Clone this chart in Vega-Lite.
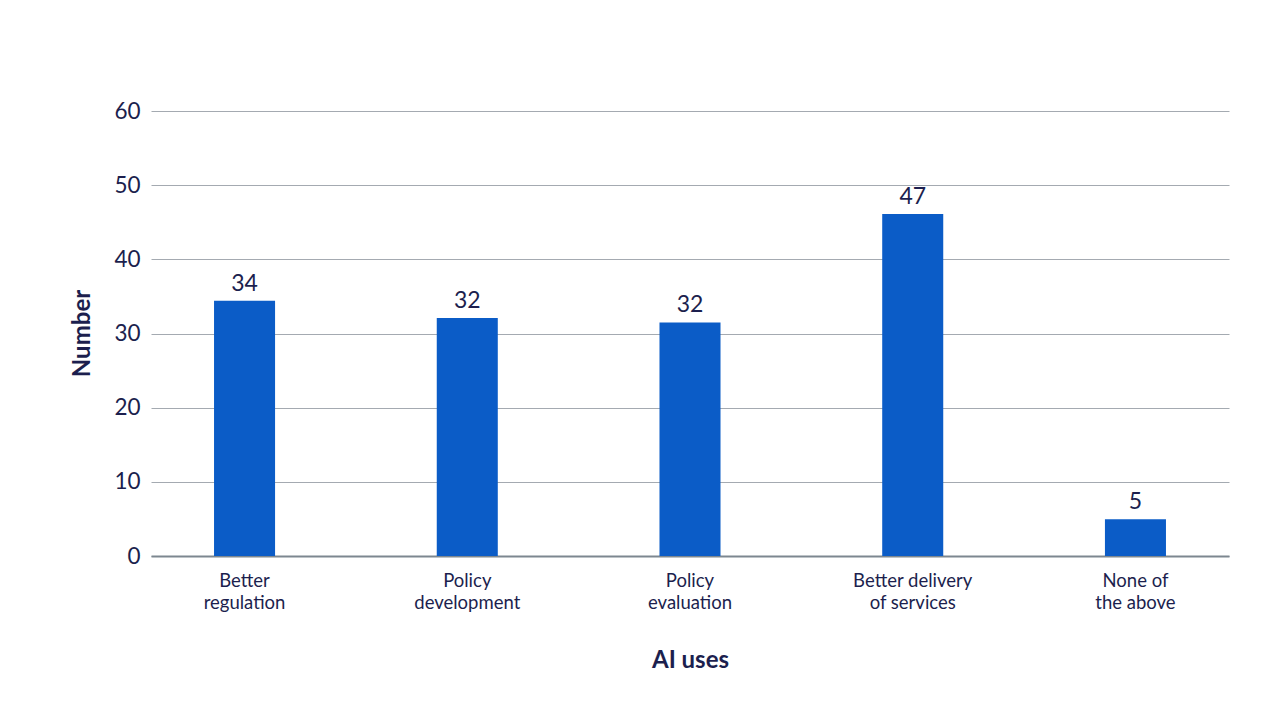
{
  "$schema": "https://vega.github.io/schema/vega-lite/v6.json",
  "autosize": {"type": "none"},
  "width": 1078,
  "height": 445,
  "padding": {"left": 151, "top": 111, "right": 55, "bottom": 164},
  "background": "#ffffff",
  "data": {
    "values": [
      {"use": "Better\nregulation", "value": 34.4, "label": "34"},
      {"use": "Policy\ndevelopment", "value": 32.1, "label": "32"},
      {"use": "Policy\nevaluation", "value": 31.5, "label": "32"},
      {"use": "Better delivery\nof services", "value": 46.1, "label": "47"},
      {"use": "None of\nthe above", "value": 4.95, "label": "5"}
    ]
  },
  "config": {
    "font": "Lato",
    "view": {"stroke": null},
    "axis": {"labelColor": "#1c1f4e", "titleColor": "#1c1f4e"}
  },
  "encoding": {
    "x": {
      "field": "use",
      "type": "nominal",
      "sort": null,
      "scale": {"paddingInner": 0.726, "paddingOuter": 0.283},
      "axis": {
        "title": "AI uses",
        "titleFontSize": 24,
        "titleFontWeight": "bold",
        "titleY": 104,
        "titleBaseline": "middle",
        "labelExpr": "split(datum.label, '\\n')",
        "labelAngle": 0,
        "labelFontSize": 18.5,
        "labelLineHeight": 22,
        "labelPadding": 15,
        "labelBaseline": "top",
        "ticks": false,
        "domainColor": "#7d8790",
        "domainWidth": 2,
        "grid": false
      }
    },
    "y": {
      "field": "value",
      "type": "quantitative",
      "scale": {"domain": [0, 60], "nice": false},
      "axis": {
        "title": "Number",
        "titleFontSize": 24,
        "titleFontWeight": "bold",
        "titleAngle": -90,
        "titleX": -69,
        "titleY": 222,
        "titleAlign": "center",
        "titleBaseline": "middle",
        "values": [0, 10, 20, 30, 40, 50, 60],
        "labelFontSize": 22.5,
        "labelPadding": 11,
        "ticks": false,
        "domain": false,
        "grid": true,
        "gridColor": "#a4aab1",
        "gridWidth": 1
      }
    }
  },
  "layer": [
    {"mark": {"type": "bar", "color": "#0b5cc7"}},
    {
      "mark": {"type": "text", "baseline": "bottom", "dy": -5, "fontSize": 23, "color": "#1c1f4e"},
      "encoding": {"text": {"field": "label"}}
    }
  ]
}
